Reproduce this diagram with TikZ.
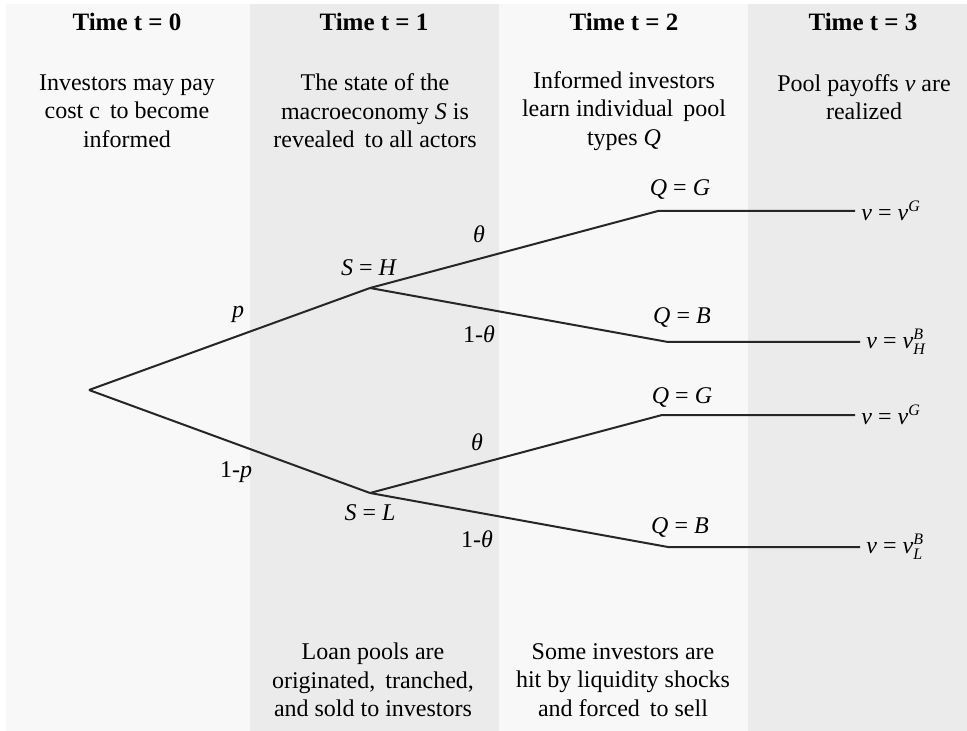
\documentclass[tikz,border=0pt]{standalone}
\usepackage{amsmath}
\usepackage{fontspec}
\setmainfont{Liberation Serif}
\definecolor{bandlight}{HTML}{F8F8F8}
\definecolor{banddark}{HTML}{EBEBEB}
\begin{document}
\begin{tikzpicture}[x=0.5pt,y=-0.5pt,
        title/.style={font=\fontsize{12.5}{14}\selectfont\bfseries, inner sep=0pt},
        txt/.style={font=\fontsize{12}{14.25}\selectfont, align=center, inner sep=0pt},
        lab/.style={font=\fontsize{12}{14}\selectfont, inner sep=0pt},
        branch/.style={line width=1pt, draw=black!85}]
        % time bands
        \fill[white] (0,0) rectangle (967,731);
        \fill[bandlight] (6,4) rectangle (250,731);
        \fill[banddark] (250,4) rectangle (499,731);
        \fill[bandlight] (499,4) rectangle (748,731);
        \fill[banddark] (748,4) rectangle (967,731);
        % headings
        \node[title] (t0) at (127,22) {Time t = 0};
        \node[title] (t1) at (374,22) {Time t = 1};
        \node[title] (t2) at (624,22) {Time t = 2};
        \node[title] (t3) at (863,22) {Time t = 3};
        \node[txt] (d0) at (127,111) {Investors may pay\\cost c\, to become\\informed};
        \node[txt] (d1) at (375,111) {The state of the\\macroeconomy \textit{S} is\\revealed\, to all actors};
        \node[txt] (d2) at (624,111) {Informed investors\\learn individual\, pool\\types \textit{Q}};
        \node[txt] (d3) at (864,97) {Pool payoffs \textit{v} are\\realized};
        \node[txt] (e1) at (373,680) {Loan pools are\\originated,\, tranched,\\and sold to investors};
        \node[txt] (e2) at (623,680) {Some investors are\\hit by liquidity shocks\\and forced\, to sell};
        % tree
        \coordinate (root) at (89,390);
        \coordinate (H) at (370,288);
        \coordinate (L) at (370,493);
        \coordinate (HG) at (658,211);
        \coordinate (HB) at (668,342);
        \coordinate (LG) at (662,415);
        \coordinate (LB) at (668,547);
        \node[lab, anchor=west] (vHG) at (861,211) {\textit{v} = $\textit{v}^{\textit{G}}$};
        \node[lab, anchor=west] (vHB) at (866,342) {\textit{v} = $\textit{v}^{\textit{B}}_{\textit{H}}$};
        \node[lab, anchor=west] (vLG) at (861,415) {\textit{v} = $\textit{v}^{\textit{G}}$};
        \node[lab, anchor=west] (vLB) at (866,547) {\textit{v} = $\textit{v}^{\textit{B}}_{\textit{L}}$};
        \draw[branch] (root) -- (H);
        \draw[branch] (root) -- (L);
        \draw[branch] (H) -- (HG) -- ([xshift=-3]vHG.west);
        \draw[branch] (H) -- (HB) -- ([xshift=-3]vHB.west);
        \draw[branch] (L) -- (LG) -- ([xshift=-3]vLG.west);
        \draw[branch] (L) -- (LB) -- ([xshift=-3]vLB.west);
        % labels
        \node[lab] (sh) at (369,268) {\textit{S} = \textit{H}};
        \node[lab] (sl) at (370,513) {\textit{S} = \textit{L}};
        \node[lab] (qhg) at (680,190) {\textit{Q} = \textit{G}};
        \node[lab] (qhb) at (682,318) {\textit{Q} = \textit{B}};
        \node[lab] (qlg) at (682,397) {\textit{Q} = \textit{G}};
        \node[lab] (qlb) at (680,527) {\textit{Q} = \textit{B}};
        \node[lab] (p) at (238,314) {\textit{p}};
        \node[lab] (q) at (236,472) {1-\textit{p}};
        \node[lab] (th1) at (479,234) {\textit{θ}};
        \node[lab] (nth1) at (479,334) {1-\textit{θ}};
        \node[lab] (th2) at (477,442) {\textit{θ}};
        \node[lab] (nth2) at (477,539) {1-\textit{θ}};
    \end{tikzpicture}
\end{document}
